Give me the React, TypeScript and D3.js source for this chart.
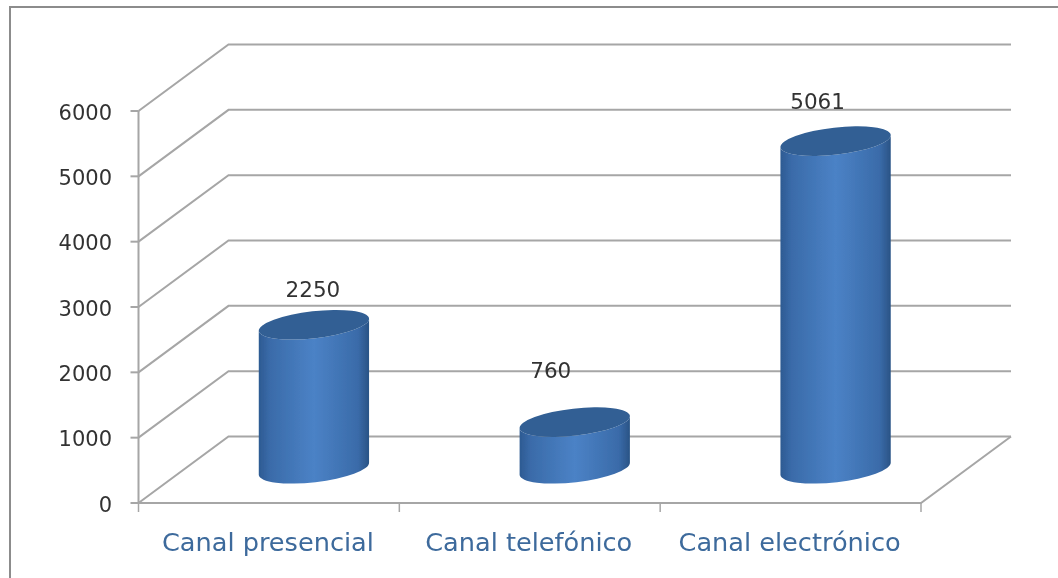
import React from 'react';
import * as d3 from 'd3';

const categories = ['Canal presencial', 'Canal telefónico', 'Canal electrónico'];
const values = [2250, 760, 5061];
const valueTicks = [0, 1000, 2000, 3000, 4000, 5000, 6000];

const W = 1058, H = 578;
const front = { x0: 138.5, x1: 921, y0: 503, y1: 111 };
const depth = { dx: 90, dy: -66.5 };
const rightEnd = 1011;
// hand-placed data labels in the original chart
const labelDx = [-1, -24, -18];
const labelDy = [-28, -44, -32];

export default function App() {
  const y = d3.scaleLinear().domain([0, 6000]).range([front.y0, front.y1]);
  const x = d3.scaleBand<string>().domain(categories).range([front.x0, front.x1]);
  const a = 55.5, b = 13.5, tilt = -6.5;
  const grid = '#a6a6a6';
  const t = d3.format('d');
  return (
    <svg width={W} height={H} viewBox={`0 0 ${W} ${H}`} style={{ position: 'absolute', left: 0, top: 0, background: '#fff' }}>
      <defs>
        <linearGradient id="cyl" x1="0" x2="1" y1="0" y2="0">
          <stop offset="0" stopColor="#2d5a92" />
          <stop offset="0.1" stopColor="#3a6ba9" />
          <stop offset="0.5" stopColor="#4b82c6" />
          <stop offset="0.9" stopColor="#3a6ba9" />
          <stop offset="1" stopColor="#2a5385" />
        </linearGradient>
        <filter id="soft" x="-5%" y="-5%" width="110%" height="110%">
          <feGaussianBlur stdDeviation="0.55" />
        </filter>
      </defs>
      <g filter="url(#soft)">
        <path d={`M10,${H} V7 H${W}`} fill="none" stroke="#8c8c8c" strokeWidth={2} />
        {valueTicks.map(v => (
          <g key={v} fill="none" stroke={grid} strokeWidth={2}>
            <path d={`M${front.x0},${y(v)} L${front.x0 + depth.dx},${y(v) + depth.dy} L${rightEnd},${y(v) + depth.dy}`} />
            <line x1={front.x0 - 8} x2={front.x0} y1={y(v)} y2={y(v)} />
          </g>
        ))}
        <path d={`M${front.x0},${y(6000)} V${y(0)} H${front.x1} L${rightEnd},${y(0) + depth.dy}`} fill="none" stroke={grid} strokeWidth={2} />
        {d3.range(categories.length + 1).map(i => {
          const px = front.x0 + i * x.step();
          return <line key={i} x1={px} x2={px} y1={y(0)} y2={y(0) + 9} stroke={grid} strokeWidth={1.5} />;
        })}
        {valueTicks.map(v => (
          <text key={v} x={112} y={y(v) + 8.5} textAnchor="end" fontFamily="'DejaVu Sans'" fontSize={21} fill="#333">{t(v)}</text>
        ))}
        {categories.map((c, i) => {
          const cx = x(c)! + x.bandwidth() / 2 + depth.dx / 2;
          const base = y(0) + depth.dy / 2 - 1;
          const top = y(values[i]) + depth.dy / 2 + 2;
          const r = (tilt * Math.PI) / 180;
          const ex = a * Math.cos(r), ey = a * Math.sin(r);
          const side = `M${cx - ex},${top - ey} L${cx - ex},${base - ey} A${a},${b} ${tilt} 0 0 ${cx + ex},${base + ey} L${cx + ex},${top + ey} A${a},${b} ${tilt} 0 1 ${cx - ex},${top - ey} Z`;
          return (
            <g key={c}>
              <path d={side} fill="url(#cyl)" />
              <ellipse cx={0} cy={0} rx={a} ry={b} transform={`translate(${cx},${top}) rotate(${tilt})`} fill="#315f94" />
              <text x={cx + labelDx[i]} y={top + labelDy[i]} textAnchor="middle" fontFamily="'DejaVu Sans'" fontSize={21.5} fill="#333">{t(values[i])}</text>
            </g>
          );
        })}
        {categories.map(c => (
          <text key={c} x={x(c)! + x.bandwidth() / 2 - 1} y={551} textAnchor="middle" fontFamily="'DejaVu Sans'" fontSize={25.6} fill="#3d6a9c">{c}</text>
        ))}
      </g>
    </svg>
  );
}
